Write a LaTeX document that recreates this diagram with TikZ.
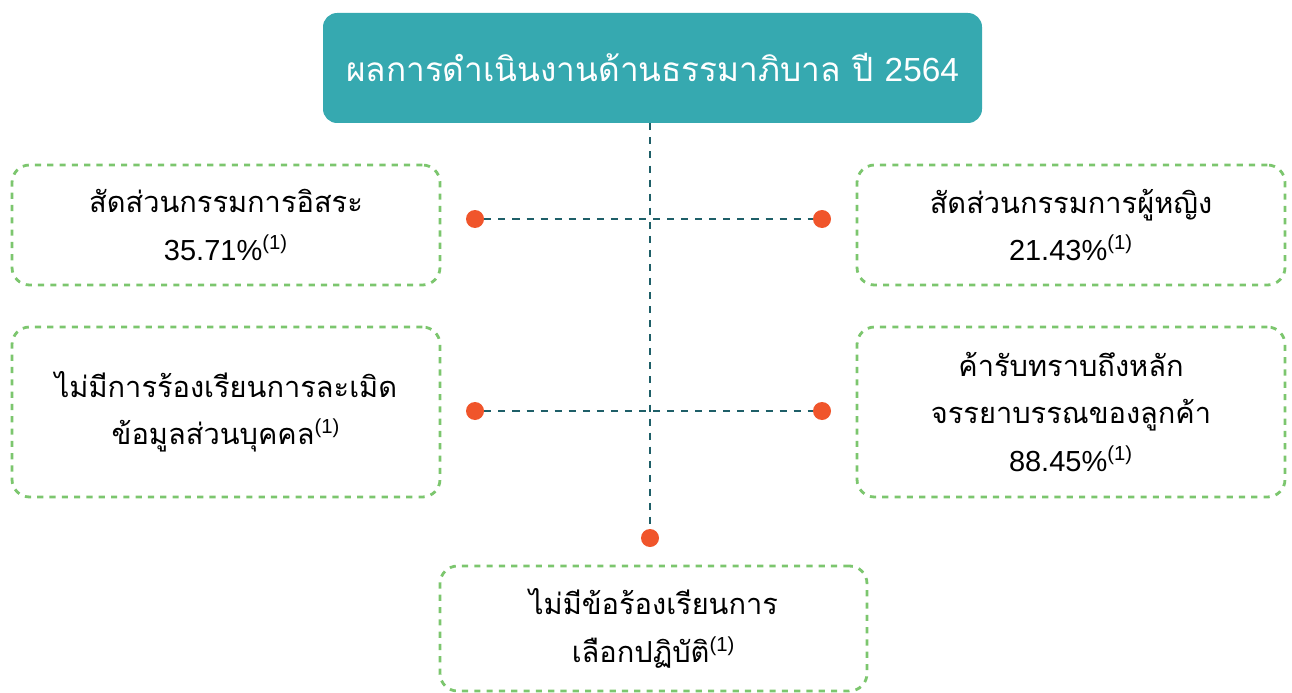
\documentclass[tikz,border=0pt]{standalone}
\usepackage{fontspec}
\setmainfont[Script=Thai]{Loma}
\newfontfamily\numfont{Liberation Sans}
\usetikzlibrary{calc,positioning}

\definecolor{teal1}{HTML}{36A9B0}
\definecolor{leafgreen}{HTML}{7CC66E}
\definecolor{darkteal}{HTML}{1E5F68}
\definecolor{dotred}{HTML}{F0552B}

\newcommand{\pct}[1]{{\numfont #1\%\textsuperscript{(1)}}}
\newcommand{\fn}{{\numfont\textsuperscript{(1)}}}

\tikzset{
  titlebox/.style={fill=teal1, rounded corners=8pt, minimum width=13.18cm,
    minimum height=2.2cm, text=white, font=\fontsize{19}{24}\selectfont},
  infobox/.style={draw=leafgreen, line width=1.6pt, dash pattern=on 3.5pt off 3.5pt,
    rounded corners=10pt, minimum width=8.56cm, align=center,
    font=\fontsize{16.5}{27}\selectfont},
  reddot/.style={circle, fill=dotred, inner sep=0pt, minimum size=0.36cm},
  link/.style={darkteal, line width=0.8pt, dash pattern=on 4pt off 4pt},
}

\begin{document}
\begin{tikzpicture}
    \useasboundingbox (0,0) rectangle (25.84,-13.86);
    % head
    \node[titlebox] (head) at (13.05,-1.36) {ผลการดำเนินงานด้านธรรมาภิบาล ปี {\numfont 2564}};
    % boxes
    \node[infobox, minimum height=2.4cm] (indep) at (4.52,-4.5)
        {สัดส่วนกรรมการอิสระ\\\pct{35.71}};
    \node[infobox, minimum height=2.4cm] (women) at (21.42,-4.5)
        {สัดส่วนกรรมการผู้หญิง\\\pct{21.43}};
    \node[infobox, minimum height=3.4cm] (privacy) at (4.52,-8.24)
        {ไม่มีการร้องเรียนการละเมิด\\ข้อมูลส่วนบุคคล\fn};
    \node[infobox, minimum height=3.4cm] (ethics) at (21.42,-8.24)
        {ค้ารับทราบถึงหลัก\\จรรยาบรรณของลูกค้า\\\pct{88.45}};
    \node[infobox, minimum height=2.5cm, minimum width=8.54cm] (practice) at (13.07,-12.57)
        {ไม่มีข้อร้องเรียนการ\\เลือกปฏิบัติ\fn};
    % dots
    \node[reddot] (d1) at (9.5,-4.38) {};
    \node[reddot] (d2) at (16.44,-4.38) {};
    \node[reddot] (d3) at (9.5,-8.22) {};
    \node[reddot] (d4) at (16.44,-8.22) {};
    \node[reddot] (d5) at (13.0,-10.76) {};
    % links
    \draw[link] (head.south -| d5) -- (d5);
    \draw[link] (d1) -- (d2);
    \draw[link] (d3) -- (d4);
\end{tikzpicture}
\end{document}
